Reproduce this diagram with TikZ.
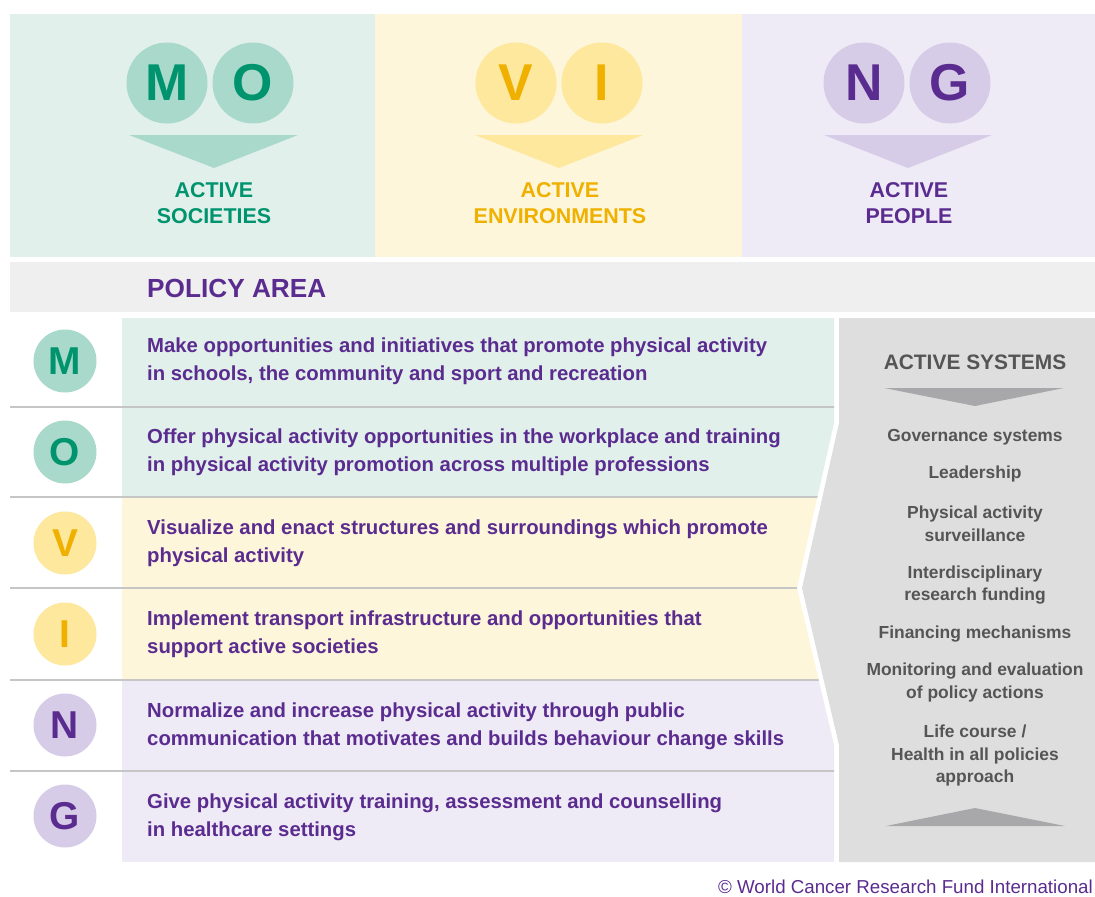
\documentclass[tikz,border=0pt]{standalone}
\usepackage{fontspec}
\setmainfont{Liberation Sans}
\definecolor{tealbg}{HTML}{E2F0EC}
\definecolor{tealcirc}{HTML}{A9D9CB}
\definecolor{tealtxt}{HTML}{00946E}
\definecolor{yelbg}{HTML}{FDF6DA}
\definecolor{yelcirc}{HTML}{FDE89E}
\definecolor{yeltxt}{HTML}{EFB000}
\definecolor{purbg}{HTML}{EFEBF6}
\definecolor{purcirc}{HTML}{D6CCE7}
\definecolor{purtxt}{HTML}{5B2C8F}
\definecolor{bandbg}{HTML}{EFEFEF}
\definecolor{sysbg}{HTML}{DEDEDE}
\definecolor{systxt}{HTML}{555555}
\definecolor{systri}{HTML}{A8A8AA}
\definecolor{sepline}{HTML}{C6C6C6}
\begin{document}
\begin{tikzpicture}[x=1bp,y=-1bp,
  bigL/.style={circle, minimum size=81bp, inner sep=0pt, font=\fontsize{52}{52}\selectfont\bfseries},
  rowL/.style={circle, minimum size=63bp, inner sep=0pt, font=\fontsize{39}{39}\selectfont\bfseries},
  head/.style={align=center, inner sep=0pt, font=\fontsize{21.5}{26}\selectfont\bfseries},
  rowtxt/.style={anchor=west, align=left, inner sep=0pt, text=purtxt, font=\fontsize{20.4}{28}\selectfont\bfseries},
  sys/.style={align=center, inner sep=0pt, text=systxt, font=\fontsize{17.5}{23}\selectfont\bfseries}]
\fill[white] (0,0) rectangle (1095,897);
\clip (0,0) rectangle (1095,897);
% top panels
\fill[tealbg] (10,14) rectangle (375,257);
\fill[yelbg] (375,14) rectangle (742,257);
\fill[purbg] (742,14) rectangle (1095,257);
% top circles
\node[bigL, fill=tealcirc, text=tealtxt] (cM) at (167,83) {M};
\node[bigL, fill=tealcirc, text=tealtxt] (cO) at (253,83) {O};
\node[bigL, fill=yelcirc, text=yeltxt] (cV) at (516,83) {V};
\node[bigL, fill=yelcirc, text=yeltxt] (cI) at (602,83) {I};
\node[bigL, fill=purcirc, text=purtxt] (cN) at (864,83) {N};
\node[bigL, fill=purcirc, text=purtxt] (cG) at (950,83) {G};
% top arrows
\fill[tealcirc] (129,135) -- (298,135) -- (214,168) -- cycle;
\fill[yelcirc] (475,135) -- (643,135) -- (559,168) -- cycle;
\fill[purcirc] (824,135) -- (992,135) -- (908,168) -- cycle;
% top headings
\node[head, text=tealtxt] (hS) at (214,203) {ACTIVE\\SOCIETIES};
\node[head, text=yeltxt] (hE) at (560,203) {ACTIVE\\ENVIRONMENTS};
\node[head, text=purtxt] (hP) at (909,203) {ACTIVE\\PEOPLE};
% policy band
\fill[bandbg] (10,262) rectangle (1095,312);
\node[anchor=west, inner sep=0pt, text=purtxt, font=\fontsize{26.3}{26}\selectfont\bfseries] (pa) at (147,288) {POLICY AREA};
% rows
\begin{scope}
\clip (0,318) -- (834,318) -- (834,423) -- (797,588) -- (834,745) -- (834,862) -- (0,862) -- cycle;
\fill[tealbg] (122,318) rectangle (900,497);
\fill[yelbg] (122,497) rectangle (900,680);
\fill[purbg] (122,680) rectangle (900,862);
\foreach \yy in {407,497,588,680,771}{\draw[sepline, line width=2bp] (10,\yy) -- (900,\yy);}
\end{scope}
% system panel
\fill[sysbg] (839,318) -- (1095,318) -- (1095,862) -- (839,862) -- (839,745) -- (802,588) -- (839,423) -- cycle;
% row circles
\node[rowL, fill=tealcirc, text=tealtxt] (rM) at (65,361) {M};
\node[rowL, fill=tealcirc, text=tealtxt] (rO) at (65,452) {O};
\node[rowL, fill=yelcirc, text=yeltxt] (rV) at (65,543) {V};
\node[rowL, fill=yelcirc, text=yeltxt] (rI) at (65,634) {I};
\node[rowL, fill=purcirc, text=purtxt] (rN) at (65,725) {N};
\node[rowL, fill=purcirc, text=purtxt] (rG) at (65,816) {G};
% row texts
\node[rowtxt] (tM) at (147,361) {Make opportunities and initiatives that promote physical activity\\in schools, the community and sport and recreation};
\node[rowtxt] (tO) at (147,452) {Offer physical activity opportunities in the workplace and training\\in physical activity promotion across multiple professions};
\node[rowtxt] (tV) at (147,543) {Visualize and enact structures and surroundings which promote\\physical activity};
\node[rowtxt] (tI) at (147,634) {Implement transport infrastructure and opportunities that\\support active societies};
\node[rowtxt] (tN) at (147,726) {Normalize and increase physical activity through public\\communication that motivates and builds behaviour change skills};
\node[rowtxt] (tG) at (147,817) {Give physical activity training, assessment and counselling\\in healthcare settings};
% active systems
\node[inner sep=0pt, text=systxt, font=\fontsize{21}{21}\selectfont\bfseries] (as) at (975,362) {ACTIVE SYSTEMS};
\fill[systri] (884,388) -- (1064,388) -- (975,406) -- cycle;
\node[sys] (s1) at (975,437) {Governance systems};
\node[sys] (s2) at (975,474) {Leadership};
\node[sys] (s3) at (975,523.5) {Physical activity\\surveillance};
\node[sys] (s4) at (975,585) {Interdisciplinary\\research funding};
\node[sys] (s5) at (975,634) {Financing mechanisms};
\node[sys] (s6) at (975,682.5) {Monitoring and evaluation\\of policy actions};
\node[sys] (s7) at (975,755.5) {Life course /\\Health in all policies\\approach};
\fill[systri] (886,826) -- (1065,826) -- (975,808) -- cycle;
% copyright
\node[anchor=east, inner sep=0pt, text=purtxt, font=\fontsize{18.8}{18.8}\selectfont] (cr) at (1093,887) {© World Cancer Research Fund International};
\end{tikzpicture}
\end{document}
